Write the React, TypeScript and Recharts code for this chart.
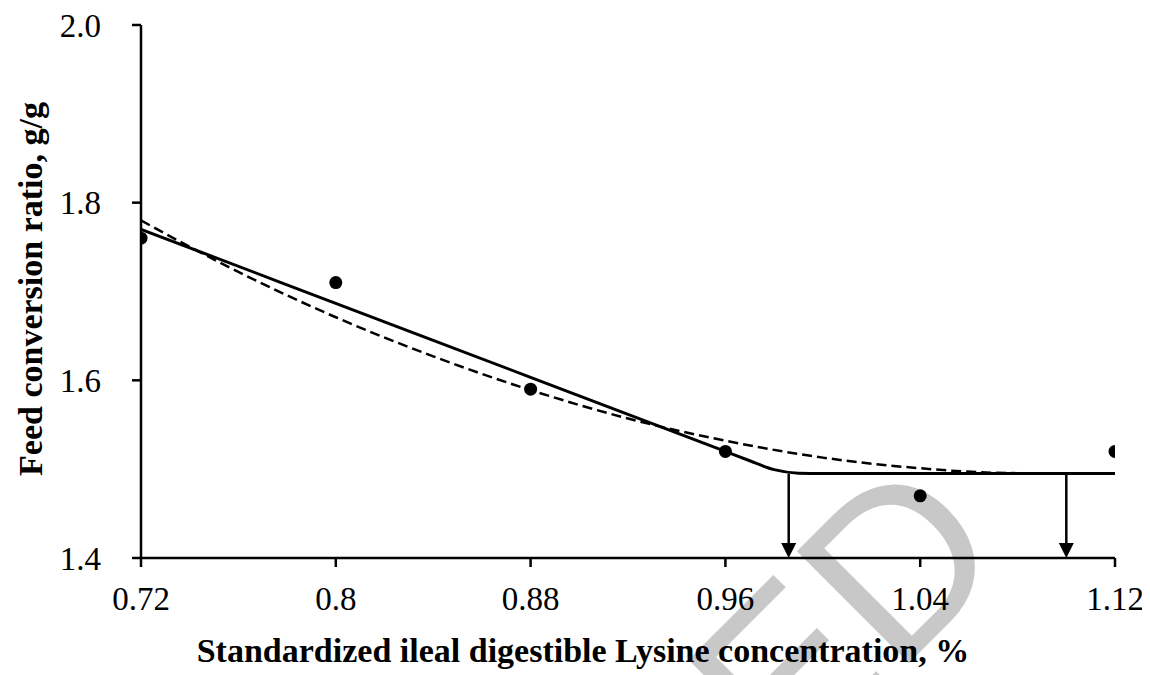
import React from "react";
import {
  ComposedChart,
  Line,
  Scatter,
  XAxis,
  YAxis,
  ReferenceLine,
} from "recharts";

// ---- data ----
const xTicks = [0.72, 0.8, 0.88, 0.96, 1.04, 1.12];
const yTicks = [1.4, 1.6, 1.8, 2.0];

const observedLys = [0.72, 0.8, 0.88, 0.96, 1.04, 1.12];
const observedFCR = [1.76, 1.71, 1.59, 1.52, 1.47, 1.52];

// broken-line (solid) fit
const brokenLys = [0.72, 0.84, 0.96, 0.97, 0.98, 0.99, 1.0, 1.12];
const brokenFCR = [1.77, 1.645, 1.52, 1.5095, 1.4995, 1.4955, 1.495, 1.495];

// quadratic (dashed) fit
const quadLys = [0.72, 0.76, 0.8, 0.84, 0.88, 0.92, 0.96, 1.0, 1.04, 1.07, 1.1, 1.12];
const quadFCR = [1.78, 1.722, 1.671, 1.627, 1.589, 1.557, 1.532, 1.513, 1.501, 1.496, 1.495, 1.495];

// requirement estimates (arrows)
const arrowLys = [0.986, 1.1];
const plateauFCR = 1.495;

const xTitle = "Standardized ileal digestible Lysine concentration, %";
const yTitle = "Feed conversion ratio, g/g";
const watermark = "ACCEPTED";

const observed = observedLys.map((x, i) => ({ x, y: observedFCR[i] }));
const broken = brokenLys.map((x, i) => ({ x, y: brokenFCR[i] }));
const quad = quadLys.map((x, i) => ({ x, y: quadFCR[i] }));

const W = 1142;
const H = 667;
const FONT = "'Liberation Serif', 'Times New Roman', serif";

const ArrowShape = (p: any) => {
  const { x1, y1, x2, y2 } = p;
  const head = 15;
  return (
    <g>
      <line x1={x1} y1={y1} x2={x2} y2={y2 - head + 1} stroke="#000" strokeWidth={2.5} />
      <polygon
        points={`${x2 - 7.5},${y2 - head} ${x2 + 7.5},${y2 - head} ${x2},${y2}`}
        fill="#000"
      />
    </g>
  );
};

const Dot = (p: any) => <circle cx={p.cx} cy={p.cy} r={6.5} fill="#000" />;

export default function App() {
  return (
    <div style={{ position: "relative", width: W, height: H }}>
      <svg
        width={W}
        height={H}
        style={{ position: "absolute", left: 0, top: 0 }}
      >
        <text
          x={1005}
          y={551}
          textAnchor="end"
          transform="rotate(-45 1005 551)"
          fontFamily="'Liberation Sans', Arial, sans-serif"
          fontSize={230}
          fill="#c8c8c8"
        >
          {watermark}
        </text>
        <text
          x={575}
          y={654}
          textAnchor="middle"
          fontFamily={FONT}
          fontWeight="bold"
          fontSize={34}
          fill="#000"
        >
          {xTitle}
        </text>
        <text
          x={34}
          y={281}
          textAnchor="middle"
          transform="rotate(-90 34 281)"
          fontFamily={FONT}
          fontWeight="bold"
          fontSize={34}
          fill="#000"
        >
          {yTitle}
        </text>
      </svg>
      <ComposedChart
        width={W}
        height={H}
        margin={{ top: 17, right: 35, bottom: 57, left: 0 }}
      >
        <XAxis
          type="number"
          dataKey="x"
          domain={[0.72, 1.12]}
          ticks={xTicks}
          tickFormatter={(v: number) => String(v)}
          allowDataOverflow
          height={60}
          stroke="#000"
          axisLine={{ stroke: "#000", strokeWidth: 2.5 }}
          tickLine={{ stroke: "#000", strokeWidth: 2.5 }}
          tickSize={9}
          tickMargin={20}
          tick={{ fill: "#000", fontSize: 33, fontFamily: FONT }}
          interval={0}
        />
        <YAxis
          type="number"
          dataKey="y"
          domain={[1.4, 2.0]}
          ticks={yTicks}
          tickFormatter={(v: number) => v.toFixed(1)}
          allowDataOverflow
          width={133}
          stroke="#000"
          axisLine={{ stroke: "#000", strokeWidth: 2.5 }}
          tickLine={{ stroke: "#000", strokeWidth: 2.5 }}
          tickSize={9}
          tickMargin={31}
          tick={{ fill: "#000", fontSize: 33, fontFamily: FONT }}
          interval={0}
        />
        <Line
          data={quad}
          dataKey="y"
          type="monotone"
          stroke="#000"
          strokeWidth={2.5}
          strokeDasharray="10 5"
          dot={false}
          activeDot={false}
          isAnimationActive={false}
        />
        <Line
          data={broken}
          dataKey="y"
          type="monotone"
          stroke="#000"
          strokeWidth={3}
          dot={false}
          activeDot={false}
          isAnimationActive={false}
        />
        {arrowLys.map((a) => (
          <ReferenceLine
            key={a}
            segment={[
              { x: a, y: plateauFCR },
              { x: a, y: 1.4 },
            ]}
            shape={ArrowShape}
            ifOverflow="visible"
          />
        ))}
        <Scatter
          data={observed}
          dataKey="y"
          shape={Dot}
          isAnimationActive={false}
        />
      </ComposedChart>
    </div>
  );
}
